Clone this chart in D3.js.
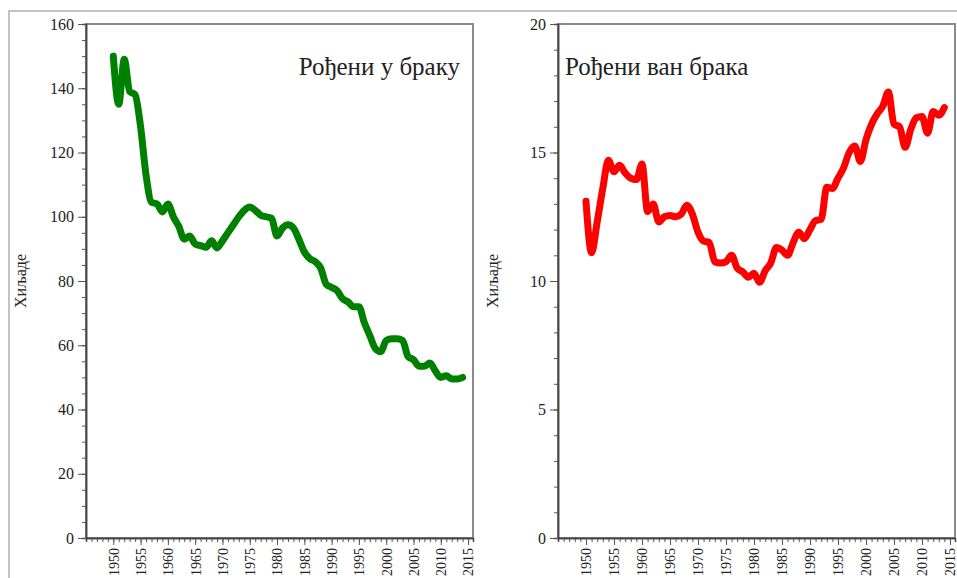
<!DOCTYPE html>
<html>
<head>
<meta charset="utf-8">
<script src="https://cdn.jsdelivr.net/npm/d3@7"></script>
<style>
   body { margin: 0; background: #fff; }
   svg text { font-family: "Liberation Serif", "DejaVu Serif", serif; fill: #222; }
</style>
</head>
<body>
<div id="chart"></div>
<script>
const years = d3.range(1950, 2015);

// rođeni u braku, hiljade
const inMarriage = [150, 135, 149, 139, 138, 128, 113, 104.5, 104, 101.5,
   104, 100, 97, 93, 94, 91.5, 91, 90.5, 92.5, 90.3,
   92.5, 95, 97.5, 100, 102, 103, 102, 100.5, 100, 99.5,
   94, 96.5, 97.5, 96.5, 93, 89, 87, 86, 84, 79,
   78, 77, 74.5, 73.5, 72, 72, 67, 63, 59, 58,
   61.5, 62, 62, 61.5, 56.5, 55.5, 53.5, 53.5, 54.5, 52,
   50, 50.5, 49.5, 49.5, 50];

// rođeni van braka, hiljade
const outMarriage = [13.1, 11.1, 12.3, 13.6, 14.7, 14.25, 14.5, 14.2, 14.0, 13.95,
   14.55, 12.7, 13.0, 12.3, 12.5, 12.55, 12.5, 12.6, 12.95, 12.6,
   11.9, 11.55, 11.5, 10.75, 10.7, 10.75, 11.0, 10.5, 10.35, 10.15,
   10.3, 9.95, 10.4, 10.7, 11.3, 11.2, 11.0, 11.5, 11.9, 11.65,
   12.0, 12.35, 12.4, 13.65, 13.6, 14.0, 14.4, 15.0, 15.25, 14.65,
   15.5, 16.1, 16.5, 16.8, 17.35, 16.1, 16.0, 15.2, 15.9, 16.35,
   16.4, 15.75, 16.6, 16.45, 16.75];

const xTicks = d3.range(1950, 2016, 5);
const leftTicks = [0, 20, 40, 60, 80, 100, 120, 140, 160];
const rightTicks = [0, 5, 10, 15, 20];

const width = 957,
   height = 578,
   plotTop = 24,
   plotBottom = 538;

const svg = d3.select('#chart')
   .append('svg')
   .attr('width', width)
   .attr('height', height);

// outer frame
svg.append('path')
   .attr('d', `M9,${height} L9,11 L${width},11`)
   .attr('fill', 'none')
   .attr('stroke', '#b0b0b0')
   .attr('stroke-width', 1.5);

const drawPanel = function(opts) {
   const x = d3.scaleLinear()
      .domain([1945, 2015.9])
      .range([opts.left, opts.right]);

   const y = d3.scaleLinear()
      .domain([0, opts.max])
      .range([plotBottom, plotTop]);

   const g = svg.append('g');

   // box
   g.append('rect')
      .attr('x', opts.left)
      .attr('y', plotTop)
      .attr('width', opts.right - opts.left)
      .attr('height', plotBottom - plotTop)
      .attr('fill', 'none')
      .attr('stroke', '#8a8a8a')
      .attr('stroke-width', 2);

   // minor ticks
   const xAxisMinor = g.append('g')
      .attr('transform', `translate(0, ${plotBottom})`)
      .call(d3.axisBottom(x).tickValues(d3.range(1946, 2016)).tickSize(4).tickFormat(''));

   const yAxisMinor = g.append('g')
      .attr('transform', `translate(${opts.left}, 0)`)
      .call(d3.axisLeft(y).tickValues(d3.range(0, opts.max + 0.01, opts.minor)).tickSize(4).tickFormat(''));

   const xAxis = g.append('g')
      .attr('transform', `translate(0, ${plotBottom})`)
      .call(d3.axisBottom(x).tickValues(xTicks).tickSize(7).tickSizeOuter(0).tickFormat(d3.format('d')));

   xAxis.selectAll('text')
      .attr('transform', 'rotate(-90)')
      .attr('text-anchor', 'end')
      .attr('x', -10)
      .attr('y', 0)
      .attr('dy', '0.35em')
      .attr('font-size', 14);

   const yAxis = g.append('g')
      .attr('transform', `translate(${opts.left}, 0)`)
      .call(d3.axisLeft(y).tickValues(opts.ticks).tickSize(8).tickSizeOuter(0));

   yAxis.selectAll('text')
      .attr('x', -12)
      .attr('font-size', 16);

   [xAxisMinor, yAxisMinor, xAxis, yAxis].forEach(a => {
      a.selectAll('.domain').attr('stroke', '#444').attr('stroke-width', 1.5);
      a.selectAll('line').attr('stroke', '#555');
   });

   g.append('text')
      .attr('transform', `translate(${opts.left - 60}, ${(plotTop + plotBottom) / 2}) rotate(-90)`)
      .attr('text-anchor', 'middle')
      .attr('font-size', 16)
      .text('Хиљаде');

   g.append('text')
      .attr('x', opts.titleX)
      .attr('y', 75)
      .attr('text-anchor', opts.titleAnchor)
      .attr('font-size', 25)
      .text(opts.title);

   const line = d3.line()
      .x((d, i) => x(years[i]))
      .y(d => y(d))
      .curve(d3.curveMonotoneX);

   g.append('path')
      .datum(opts.values)
      .attr('d', line)
      .attr('fill', 'none')
      .attr('stroke', opts.color)
      .attr('stroke-width', 7)
      .attr('stroke-linejoin', 'round')
      .attr('stroke-linecap', 'round');
}

drawPanel({left: 86, right: 473, max: 160, ticks: leftTicks, minor: 5,
   values: inMarriage, color: '#008000',
   title: 'Рођени у браку', titleX: 460, titleAnchor: 'end'});

drawPanel({left: 558, right: 955, max: 20, ticks: rightTicks, minor: 1,
   values: outMarriage, color: '#ff0000',
   title: 'Рођени ван брака', titleX: 565, titleAnchor: 'start'});
</script>
</body>
</html>
